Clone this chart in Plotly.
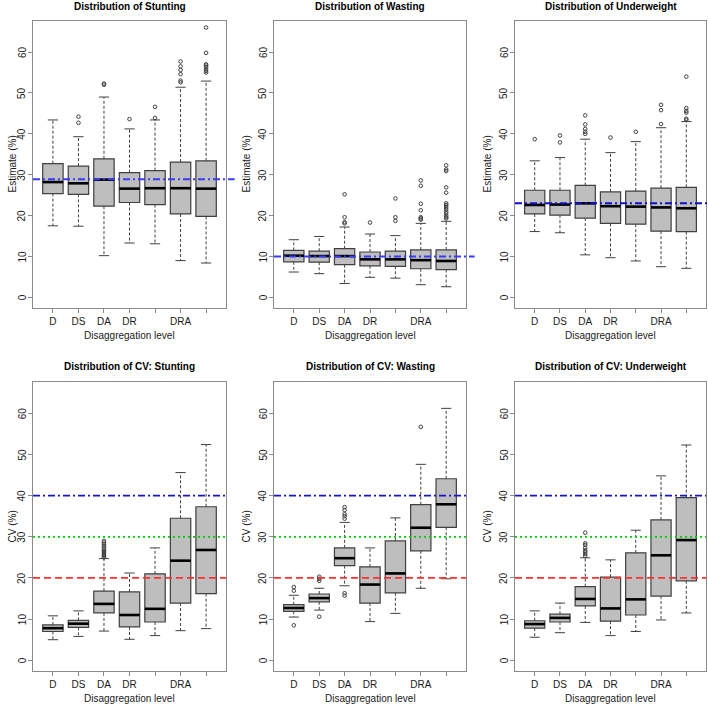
import plotly.graph_objects as go

W, H = 708, 704

positions = [1, 2, 3, 4, 5, 6, 7]
tick_labels = ["D", "DS", "DA", "DR", "", "DRA", ""]

# ---- Estimates: Stunting ----
ST_LO = [17.5, 17.4, 10.2, 13.3, 13.1, 9.0, 8.4]
ST_Q1 = [25.4, 25.2, 22.3, 23.2, 22.7, 20.4, 19.8]
ST_MED = [28.2, 27.9, 28.8, 26.6, 26.7, 26.7, 26.6]
ST_Q3 = [32.7, 32.1, 33.9, 30.5, 31.0, 33.1, 33.4]
ST_HI = [43.4, 39.3, 49.0, 41.2, 43.4, 51.4, 52.9]
ST_OUT = [[], [42.7, 44.2], [52.0, 52.3], [43.6], [43.9, 46.6],
          [52.6, 53.0, 54.6, 55.6, 56.5, 57.7],
          [55.0, 55.4, 55.8, 56.3, 56.7, 57.0, 59.8, 66.0]]
ST_REF = 28.9

# ---- Estimates: Wasting ----
WA_LO = [6.2, 5.8, 3.4, 4.9, 4.7, 3.1, 2.6]
WA_Q1 = [8.7, 8.6, 8.0, 7.7, 7.6, 7.0, 6.8]
WA_MED = [10.2, 10.1, 10.1, 9.3, 9.3, 9.1, 8.9]
WA_Q3 = [11.5, 11.3, 11.9, 11.1, 11.3, 11.6, 11.6]
WA_HI = [14.1, 14.9, 17.2, 15.5, 15.1, 18.1, 18.6]
WA_OUT = [[], [], [18.1, 18.4, 19.6, 25.2], [18.3], [18.7, 19.6, 24.2],
          [19.0, 19.3, 19.6, 21.3, 22.9, 27.3, 28.6],
          [19.3, 19.6, 20.0, 20.6, 21.0, 21.6, 22.1, 22.6, 23.0, 25.6, 26.9, 30.9, 31.3, 32.3]]
WA_REF = 10.0

# ---- Estimates: Underweight ----
UW_LO = [16.1, 15.8, 10.4, 9.7, 8.9, 7.5, 7.1]
UW_Q1 = [20.4, 20.1, 19.4, 18.1, 17.9, 16.2, 16.1]
UW_MED = [22.6, 22.7, 23.0, 22.3, 22.2, 22.0, 21.8]
UW_Q3 = [26.2, 26.2, 27.4, 25.8, 26.0, 26.7, 26.9]
UW_HI = [33.4, 34.2, 38.7, 35.4, 38.1, 41.5, 43.0]
UW_OUT = [[38.7], [37.9, 39.6], [40.0, 40.5, 41.2, 42.3, 44.5], [39.1], [40.5],
          [42.4, 45.8, 47.1], [43.4, 43.7, 45.2, 45.6, 46.3, 54.0]]
UW_REF = 23.0

# ---- CV: Stunting ----
CS_LO = [5.0, 5.8, 7.1, 5.1, 6.0, 7.2, 7.7]
CS_Q1 = [7.0, 8.0, 11.5, 8.1, 9.3, 13.9, 16.2]
CS_MED = [7.8, 8.9, 13.7, 11.0, 12.5, 24.2, 26.8]
CS_Q3 = [8.6, 9.7, 16.8, 16.6, 21.0, 34.5, 37.3]
CS_HI = [10.8, 12.0, 24.7, 21.2, 27.3, 45.6, 52.4]
CS_OUT = [[], [], [25.0, 25.3, 25.6, 26.0, 26.3, 26.6, 27.0, 27.4, 27.8, 28.2, 28.6, 29.0],
          [], [], [], []]

# ---- CV: Wasting ----
CW_LO = [10.5, 12.2, 18.1, 9.4, 11.4, 17.5, 19.8]
CW_Q1 = [11.9, 14.2, 23.0, 13.9, 16.4, 26.6, 32.3]
CW_MED = [12.7, 15.1, 24.8, 18.4, 21.1, 32.2, 37.9]
CW_Q3 = [13.5, 16.1, 27.3, 22.7, 29.0, 37.8, 44.1]
CW_HI = [15.8, 17.5, 33.5, 27.3, 34.6, 47.6, 61.2]
CW_OUT = [[8.5, 16.9, 17.8], [10.6, 19.3, 19.8, 20.3],
          [15.7, 16.3, 34.4, 35.0, 35.5, 36.5, 37.2], [], [], [56.7], []]

# ---- CV: Underweight ----
CU_LO = [5.6, 6.7, 9.2, 6.0, 7.0, 9.8, 11.5]
CU_Q1 = [7.8, 9.3, 13.2, 9.5, 11.0, 15.6, 19.3]
CU_MED = [8.8, 10.3, 14.9, 12.6, 14.8, 25.5, 29.2]
CU_Q3 = [9.6, 11.2, 17.9, 20.2, 26.1, 34.1, 39.5]
CU_HI = [12.0, 13.9, 24.9, 24.4, 31.6, 44.8, 52.3]
CU_OUT = [[], [], [25.3, 25.8, 26.3, 26.7, 27.3, 28.0, 28.4, 31.0], [], [], [], []]

CV_THRESH = [20, 30, 40]

titles = ["Distribution of Stunting", "Distribution of Wasting", "Distribution of Underweight",
          "Distribution of CV: Stunting", "Distribution of CV: Wasting", "Distribution of CV: Underweight"]
y_titles = ["Estimate (%)"] * 3 + ["CV (%)"] * 3
x_title = "Disaggregation level"
y_ticks = [0, 10, 20, 30, 40, 50, 60]

# ---- style ----
FONT = "Liberation Sans, Arial, sans-serif"
FS = 10
BOX_FILL = "#bebebe"
BOX_LINE = "#404040"
FRAME = "#8a8a8a"
TXT = "#1a1a1a"

# frame pixel geometry (left, right) per column, (top, bottom) per row
col_px = [(33, 226), (274, 466), (515, 706)]
row_px = [(21, 308), (382, 671)]
yaxis_title_px = [12, 246, 487]

fig = go.Figure()

panels = [
    (ST_LO, ST_Q1, ST_MED, ST_Q3, ST_HI, ST_OUT),
    (WA_LO, WA_Q1, WA_MED, WA_Q3, WA_HI, WA_OUT),
    (UW_LO, UW_Q1, UW_MED, UW_Q3, UW_HI, UW_OUT),
    (CS_LO, CS_Q1, CS_MED, CS_Q3, CS_HI, CS_OUT),
    (CW_LO, CW_Q1, CW_MED, CW_Q3, CW_HI, CW_OUT),
    (CU_LO, CU_Q1, CU_MED, CU_Q3, CU_HI, CU_OUT),
]
top_refs = [(ST_REF, "#3a3aff"), (WA_REF, "#3a3aff"), (UW_REF, "#1010c8")]

BOXW = 0.8
STAPLE = 0.2

annotations = []
shapes = []

for k, (lo, q1, med, q3, hi, out) in enumerate(panels):
    r, c = divmod(k, 3)
    n = k + 1
    xa = "x" if n == 1 else f"x{n}"
    ya = "y" if n == 1 else f"y{n}"

    fig.add_trace(go.Box(
        x=positions, q1=q1, median=med, q3=q3, lowerfence=q1, upperfence=q3,
        width=BOXW, whiskerwidth=0, boxpoints=False,
        fillcolor=BOX_FILL, line=dict(color=BOX_LINE, width=1.2),
        hoverinfo="skip", xaxis=xa, yaxis=ya, showlegend=False))

    # whiskers (dashed) and staples
    wx, wy = [], []
    sx, sy = [], []
    for p, a, b, cc, d in zip(positions, lo, q1, q3, hi):
        wx += [p, p, None, p, p, None]
        wy += [cc, d, None, b, a, None]
        sx += [p - STAPLE, p + STAPLE, None, p - STAPLE, p + STAPLE, None]
        sy += [d, d, None, a, a, None]
    fig.add_trace(go.Scatter(x=wx, y=wy, mode="lines", xaxis=xa, yaxis=ya,
                             line=dict(color=BOX_LINE, width=1, dash="3px,2px"),
                             hoverinfo="skip", showlegend=False))
    fig.add_trace(go.Scatter(x=sx, y=sy, mode="lines", xaxis=xa, yaxis=ya,
                             line=dict(color=BOX_LINE, width=1),
                             hoverinfo="skip", showlegend=False))
    # medians
    mx, my = [], []
    for p, m in zip(positions, med):
        mx += [p - BOXW / 2, p + BOXW / 2, None]
        my += [m, m, None]
    fig.add_trace(go.Scatter(x=mx, y=my, mode="lines", xaxis=xa, yaxis=ya,
                             line=dict(color="black", width=2.6),
                             hoverinfo="skip", showlegend=False))
    # outliers
    ox, oy = [], []
    for p, o in zip(positions, out):
        ox += [p] * len(o)
        oy += list(o)
    fig.add_trace(go.Scatter(x=ox, y=oy, mode="markers", xaxis=xa, yaxis=ya,
                             marker=dict(symbol="circle-open", size=3.6, color=BOX_LINE,
                                         line=dict(width=1, color=BOX_LINE)),
                             hoverinfo="skip", showlegend=False))

    x0, x1 = col_px[c]
    t0, b0 = row_px[r]
    xdom = [x0 / W, x1 / W]
    ydom = [1 - b0 / H, 1 - t0 / H]
    axis_common = dict(showline=True, mirror=True, linecolor=FRAME, linewidth=1.3,
                       ticks="outside", ticklen=4, tickcolor=FRAME, tickwidth=1,
                       showgrid=False, zeroline=False,
                       tickfont=dict(family=FONT, size=FS, color=TXT))
    xkey = "xaxis" if n == 1 else f"xaxis{n}"
    ykey = "yaxis" if n == 1 else f"yaxis{n}"
    fig.update_layout(**{
        xkey: dict(domain=xdom, range=[0.22, 7.78], tickmode="array",
                   tickvals=positions, ticktext=tick_labels, anchor=ya, **axis_common),
        ykey: dict(domain=ydom, range=[-2.6, 67.6], tickmode="array",
                   tickvals=y_ticks, showticklabels=False, anchor=xa, **axis_common),
    })

    # rotated y tick labels (R style, parallel to the axis)
    for v in y_ticks:
        annotations.append(dict(text=str(v), x=(x0 - 11) / W, y=v, xref="paper", yref=ya,
                                showarrow=False, textangle=-90,
                                xanchor="center", yanchor="middle",
                                font=dict(family=FONT, size=FS, color=TXT)))

    # reference lines
    if r == 0:
        val, colr = top_refs[c]
        shapes.append(dict(type="line", xref=f"{xa} domain", yref=ya, x0=0, x1=1.045,
                           y0=val, y1=val, line=dict(color=colr, width=2, dash="7px,3px,2px,3px")))
    else:
        styles = {20: ("#ff3030", "7px,4px"), 30: ("#00cc00", "2px,3px"),
                  40: ("#1414c8", "7px,3px,2px,3px")}
        for v in CV_THRESH:
            colr, dsh = styles[v]
            shapes.append(dict(type="line", xref=f"{xa} domain", yref=ya, x0=0, x1=1,
                               y0=v, y1=v, line=dict(color=colr, width=1.8, dash=dsh)))

    # titles
    cx = (x0 + x1) / 2 / W
    title_y = (6 if r == 0 else 366)
    annotations.append(dict(text=f"<b>{titles[k]}</b>", x=cx, y=1 - title_y / H,
                            xref="paper", yref="paper", showarrow=False,
                            xanchor="center", yanchor="middle",
                            font=dict(family=FONT, size=FS, color="black")))
    annotations.append(dict(text=x_title, x=cx, y=1 - (b0 + 27) / H,
                            xref="paper", yref="paper", showarrow=False,
                            xanchor="center", yanchor="middle",
                            font=dict(family=FONT, size=FS, color=TXT)))
    annotations.append(dict(text=y_titles[k], x=yaxis_title_px[c] / W,
                            y=(ydom[0] + ydom[1]) / 2,
                            xref="paper", yref="paper", showarrow=False, textangle=-90,
                            xanchor="center", yanchor="middle",
                            font=dict(family=FONT, size=FS, color=TXT)))

fig.update_layout(width=W, height=H, margin=dict(l=0, r=0, t=0, b=0),
                  paper_bgcolor="white", plot_bgcolor="white", showlegend=False,
                  annotations=annotations, shapes=shapes,
                  font=dict(family=FONT))

fig.write_html("out.html", config={"displayModeBar": False},
               post_script="document.body.style.margin='0';")
